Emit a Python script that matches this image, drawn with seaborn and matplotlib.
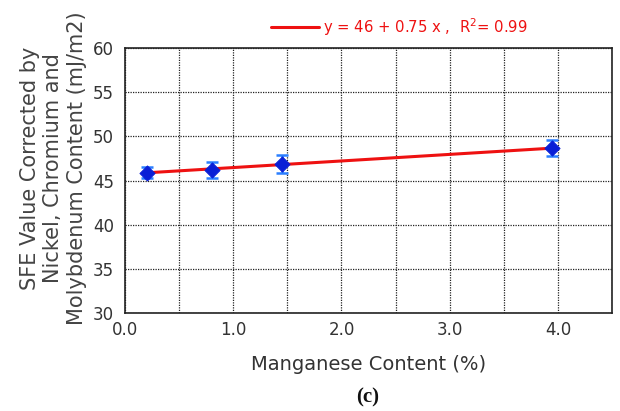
import numpy as np
import pandas as pd
import matplotlib
matplotlib.use("Agg")
import matplotlib.pyplot as plt
import seaborn as sns

# Data
mn_content = [0.2, 0.8, 1.45, 3.95]
sfe_value = [45.9, 46.2, 46.9, 48.65]
sfe_err = [0.65, 0.9, 1.0, 0.9]
fit_label = "y = 46 + 0.75 x ,  R$^2$= 0.99"
x_ticks = [0.0, 1.0, 2.0, 3.0, 4.0]
x_ticklabels = ["0.0", "1.0", "2.0", "3.0", "4.0"]
y_ticks = [30, 35, 40, 45, 50, 55, 60]

sns.set_style("white")
plt.rcParams['font.family'] = ['DejaVu Sans']

fig = plt.figure(figsize=(6.2, 4.11), dpi=100)
ax = fig.add_axes([125/620, 1 - 313/411, (612-125)/620, (313-48)/411])

df = pd.DataFrame({"mn": mn_content, "sfe": sfe_value, "err": sfe_err})

# regression line through the data (displayed as the fit)
coef = np.polyfit(df["mn"], df["sfe"], 1)
line_x = np.array([min(mn_content) - 0.03, max(mn_content) + 0.01])
line_df = pd.DataFrame({"x": line_x, "y": np.polyval(coef, line_x)})
sns.lineplot(data=line_df, x="x", y="y", color="#ee1111", linewidth=2.2,
             ax=ax, label=fit_label, zorder=3)

ax.errorbar(df["mn"], df["sfe"], yerr=df["err"], fmt="none",
            ecolor="#2a7fff", elinewidth=1.8, capsize=4, capthick=1.8, zorder=4)
sns.scatterplot(data=df, x="mn", y="sfe", marker="D", s=60, color="#0a1fd6",
                edgecolor="#0a1fd6", ax=ax, zorder=5, legend=False)

ax.set_xlim(0, 4.5)
ax.set_ylim(30, 60)
ax.set_xticks(np.arange(0, 4.51, 0.5), minor=True)
ax.set_xticks(x_ticks)
ax.set_xticklabels(x_ticklabels)
ax.set_yticks(y_ticks)
ax.grid(True, which="both", axis="x", linestyle=(0, (1, 1)), color="#222222", linewidth=0.9)
ax.grid(True, which="major", axis="y", linestyle=(0, (1, 1)), color="#222222", linewidth=0.9)
ax.tick_params(axis="both", which="both", direction="in", length=4, color="#222222",
               labelsize=12, labelcolor="#333333", pad=6)
ax.tick_params(axis="y", pad=8)
for s in ax.spines.values():
    s.set_color("#222222")
    s.set_linewidth(1.2)

ax.set_xlabel("Manganese Content (%)", fontsize=14, color="#333333", labelpad=11)
ax.set_ylabel("SFE Value Corrected by\nNickel, Chromium and\nMolybdenum Content (mJ/m2)",
              fontsize=15, color="#444444", linespacing=1.22)
ax.yaxis.set_label_coords(-0.078, 0.547)

leg = ax.legend(loc="lower center", bbox_to_anchor=(0.564, 1.0), frameon=False,
                fontsize=10.7, handlelength=3.2, handletextpad=0.3, borderaxespad=0.3)
for t in leg.get_texts():
    t.set_color("#ee1111")

fig.text(368/620, 1 - 397/411, "(c)", fontsize=15, fontweight="bold",
         family="Liberation Serif", ha="center", va="center", color="#111111")

fig.savefig("out.png", dpi=100)
